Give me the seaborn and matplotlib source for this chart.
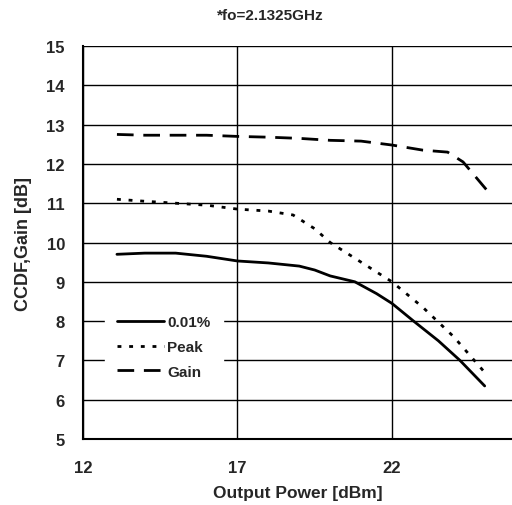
import numpy as np
import pandas as pd
import matplotlib
matplotlib.use("Agg")
import matplotlib.pyplot as plt
import seaborn as sns

# --- data ---
pout_ccdf = [13.1, 14, 15, 16, 17, 18, 19, 19.5, 20, 20.8, 21.5, 22, 22.7, 23.5, 24.2, 25.0]
ccdf_001 = [9.70, 9.73, 9.73, 9.65, 9.53, 9.48, 9.40, 9.30, 9.15, 9.00, 8.70, 8.45, 8.00, 7.50, 7.00, 6.35]

pout_peak = [13.1, 14, 15, 16, 17, 18, 18.8, 19.5, 20, 21, 22, 23, 24, 25.05]
peak = [11.10, 11.05, 11.00, 10.95, 10.85, 10.80, 10.70, 10.35, 10.00, 9.50, 9.00, 8.35, 7.60, 6.65]

pout_gain = [13.1, 14, 15, 16, 17, 18, 19, 20, 21, 22, 23, 23.8, 24.3, 25.05]
gain = [12.75, 12.73, 12.73, 12.73, 12.70, 12.68, 12.65, 12.60, 12.58, 12.48, 12.35, 12.30, 12.05, 11.35]

series_names = ["0.01%", "Peak", "Gain"]
x_ticks = [12, 17, 22]
y_ticks = [5, 6, 7, 8, 9, 10, 11, 12, 13, 14, 15]

sns.set_style("white")
plt.rcParams["font.family"] = ["Liberation Sans", "DejaVu Sans"]
plt.rcParams["font.weight"] = "bold"

fig = plt.figure(figsize=(5.12, 5.06), dpi=100)
ax = fig.add_axes([0.162, 0.1304, 0.838, 0.7767])

styles = ["-", (0, (1.4, 2.8)), (0, (6, 3.5))]
xs = [pout_ccdf, pout_peak, pout_gain]
ys = [ccdf_001, peak, gain]
for name, x, y, ls in zip(series_names, xs, ys, styles):
    df = pd.DataFrame({"x": x, "y": y})
    sns.lineplot(data=df, x="x", y="y", ax=ax, color="black", lw=2,
                 linestyle=ls, label=name, sort=False)

ax.set_xlim(12, 12 + 429 / 30.9)
ax.set_ylim(5, 15)
ax.set_xticks(x_ticks)
ax.set_yticks(y_ticks)
ax.grid(True, color="black", lw=1)
for s in ["top", "right"]:
    ax.spines[s].set_visible(False)
for s in ["left", "bottom"]:
    ax.spines[s].set_color("black")
    ax.spines[s].set_linewidth(1.5)
ax.tick_params(length=0, labelsize=12)
ax.tick_params(axis="y", pad=13)
ax.tick_params(axis="x", pad=15)
for lab in ax.get_xticklabels() + ax.get_yticklabels():
    lab.set_fontweight("bold")

ax.set_xlabel("Output Power [dBm]", fontsize=12.5, fontweight="bold", labelpad=7)
ax.set_ylabel("CCDF,Gain [dB]", fontsize=13, fontweight="bold", labelpad=10)
fig.text(0.527, 0.968, "*fo=2.1325GHz", ha="center", va="center",
         fontsize=11, fontweight="bold")

leg = ax.legend(loc="upper left", bbox_to_anchor=(0.051, 0.346), borderaxespad=0,
                frameon=True, fontsize=11, handlelength=3.1, handletextpad=0.2,
                labelspacing=0.7, borderpad=0.8)
leg.get_frame().set_edgecolor("white")
leg.get_frame().set_facecolor("white")
leg.get_frame().set_alpha(1)
leg.get_frame().set_boxstyle("square", pad=0)
for t in leg.get_texts():
    t.set_fontweight("bold")

fig.savefig("out.png", dpi=100)
